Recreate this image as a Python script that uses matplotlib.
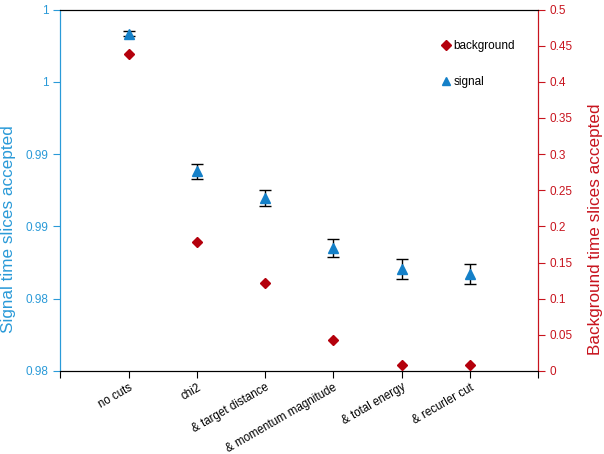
import matplotlib
matplotlib.use("Agg")
import matplotlib.pyplot as plt
from matplotlib.ticker import FuncFormatter

plt.rcParams['font.family'] = ['Liberation Sans', 'DejaVu Sans']

# donnees
cuts = ['no cuts', 'chi2', '& target distance', '& momentum magnitude',
        '& total energy', '& recurler cut']
signal = [0.99834, 0.98880, 0.98696, 0.98351, 0.98206, 0.98172]
signal_err = [0.0002, 0.00052, 0.00057, 0.00064, 0.00068, 0.00069]
background = [0.438, 0.179, 0.122, 0.0423, 0.0087, 0.0078]

left_ticks = [0.975, 0.98, 0.985, 0.99, 0.995, 1.0]
left_labels = ['0.98', '0.98', '0.99', '0.99', '1', '1']
right_ticks = [0, 0.05, 0.1, 0.15, 0.2, 0.25, 0.3, 0.35, 0.4, 0.45, 0.5]

blue = '#1480c8'
blue_axis = '#2a9ad8'
red = '#b4000c'
red_axis = '#c8141e'

x = list(range(1, len(cuts) + 1))

fig = plt.figure(figsize=(6.04, 4.54), dpi=100)
ax = fig.add_axes([0.1, 0.183, 0.791, 0.796])
ax2 = ax.twinx()

ax.errorbar(x, signal, yerr=signal_err, fmt='^', color=blue, markersize=7,
            ecolor='black', elinewidth=1, capsize=4, capthick=1, zorder=3)
ax2.plot(x, background, 'D', color=red, markersize=5, zorder=3)

ax.set_xlim(0, len(cuts) + 1)
ax.set_xticks(range(0, len(cuts) + 2))
ax.set_xticklabels([''] + cuts + [''], rotation=30, ha='right',
                   rotation_mode='anchor', fontsize=8.3)
ax.tick_params(axis='x', direction='out', length=5, pad=2.5)

ax.set_ylim(0.975, 1.0)
ax.set_yticks(left_ticks)
ax.set_yticklabels(left_labels)
ax.tick_params(axis='y', colors=blue_axis, labelsize=8.5, length=5)
ax.set_ylabel('Signal time slices accepted', color=blue_axis, fontsize=12.3)
ax.yaxis.set_label_coords(-0.093, 0.392)

ax2.set_ylim(0, 0.5)
ax2.set_yticks(right_ticks)
ax2.yaxis.set_major_formatter(FuncFormatter(lambda v, p: '%g' % v))
ax2.tick_params(axis='y', colors=red_axis, labelsize=8.5, length=5)
ax2.set_ylabel('Background time slices accepted', color=red_axis, fontsize=12.3)
ax2.yaxis.set_label_coords(1.105, 0.392)

ax.spines['left'].set_color(blue_axis)
ax2.spines['left'].set_color(blue_axis)
ax2.spines['right'].set_color(red_axis)
ax.spines['right'].set_color(red_axis)

# legende
h1 = plt.Line2D([], [], marker='D', color=red, linestyle='', markersize=5)
h2 = plt.Line2D([], [], marker='^', color=blue, linestyle='', markersize=6)
ax2.legend([h1, h2], ['background', 'signal'], loc='upper left',
           bbox_to_anchor=(0.773, 0.945), frameon=False, fontsize=8.5,
           handletextpad=0.1, handlelength=1.0, labelspacing=2.0)

plt.savefig('out.png', dpi=100)
